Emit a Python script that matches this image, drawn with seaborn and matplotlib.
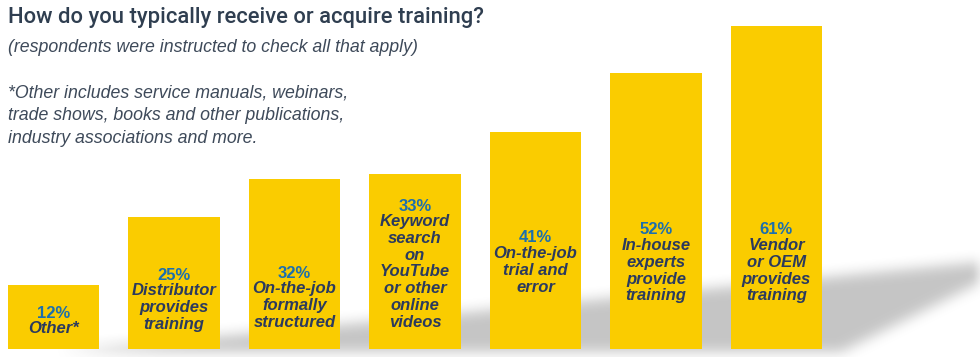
import numpy as np
import pandas as pd
import matplotlib
matplotlib.use("Agg")
import matplotlib.pyplot as plt
import seaborn as sns
from matplotlib.path import Path

# ---- data ----
categories = ["Other*", "Distributor provides training", "On-the-job formally structured",
              "Keyword search on YouTube or other online videos", "On-the-job trial and error",
              "In-house experts provide training", "Vendor or OEM provides training"]
values = [12, 25, 32, 33, 41, 52, 61]
bar_labels = ["Other*", "Distributor\nprovides\ntraining", "On-the-job\nformally\nstructured",
              "Keyword\nsearch\non\nYouTube\nor other\nonline\nvideos",
              "On-the-job\ntrial and\nerror", "In-house\nexperts\nprovide\ntraining",
              "Vendor\nor OEM\nprovides\ntraining"]
title = "How do you typically receive or acquire training?"
subtitle = "(respondents were instructed to check all that apply)"
note = ("*Other includes service manuals, webinars,\n"
        "trade shows, books and other publications,\n"
        "industry associations and more.")

sns.set_theme(style="white")
plt.rcParams['font.family'] = ['Liberation Sans', 'DejaVu Sans']

W, H = 980, 357
fig = plt.figure(figsize=(W / 100, H / 100), dpi=100)

# ---- decorative blurred shadow ----
bg = fig.add_axes([0, 0, 1, 1])
bg.set_xlim(0, W); bg.set_ylim(H, 0); bg.axis("off")
yy, xx = np.mgrid[0:H, 0:W]
poly = Path([(60, 352), (980, 262), (980, 282), (840, 352)])
mask = poly.contains_points(np.c_[xx.ravel() + 0.5, yy.ravel() + 0.5]).reshape(H, W).astype(float)
k = np.ones(15) / 15
for _ in range(2):
    mask = np.apply_along_axis(lambda r: np.convolve(r, k, mode="same"), 1, mask)
    mask = np.apply_along_axis(lambda c: np.convolve(c, k, mode="same"), 0, mask)
rgba = np.zeros((H, W, 4))
rgba[..., :3] = 0.55
rgba[..., 3] = mask * 0.5
bg.imshow(rgba, extent=(0, W, H, 0), interpolation="bilinear", zorder=0)

# ---- bars ----
ax = fig.add_axes([0, 0, 1, 1])
ax.patch.set_alpha(0)
df = pd.DataFrame({"category": categories, "value": values})
sns.barplot(data=df, x="category", y="value", color="#FACC00", saturation=1,
            width=0.763, ax=ax, edgecolor="none")
ax.set_xlim(-0.444, 7.689)
ppu = 5.3
ax.set_ylim(-8 / ppu, 349 / ppu)
ax.axis("off")

def ydata(pix):
    return (349 - pix) / ppu

pct_y = [313, 275, 273, 206, 238, 230, 230]
for i, (v, lab, py) in enumerate(zip(values, bar_labels, pct_y)):
    ax.text(i, ydata(py), f"{v}%", ha="center", va="center", color="#1C6FAE",
            fontsize=12, fontweight="bold")
    ax.text(i, ydata(py + 8), lab, ha="center", va="top", color="#2B3A5E",
            fontsize=12, fontweight="bold", fontstyle="italic", linespacing=1.15)

# ---- header text ----
fig.text(8 / W, 1 - 17 / H, title, ha="left", va="center", fontsize=15.8,
         color="#2F3E50", fontweight="medium", family=['Roboto', 'Liberation Sans'])
fig.text(8 / W, 1 - 47 / H, subtitle, ha="left", va="center", fontsize=12.8,
         color="#3E4A5A", fontstyle="italic")
fig.text(8 / W, 1 - 116 / H, note, ha="left", va="center", fontsize=12.8,
         color="#3E4A5A", fontstyle="italic", linespacing=1.45)

fig.savefig("out.png", dpi=100)
